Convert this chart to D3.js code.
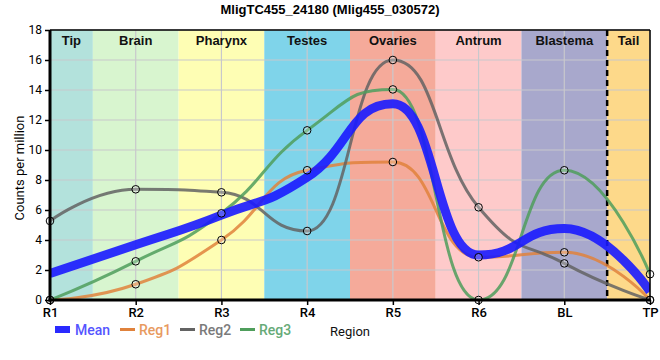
<!DOCTYPE html>
<html><head><meta charset="utf-8">
<script src="https://cdn.jsdelivr.net/npm/d3@7"></script>
<style>body{margin:0;background:#fff}svg{display:block}</style>
</head><body><svg id="c" width="660" height="360"></svg>
<script>
const categories = ["R1","R2","R3","R4","R5","R6","BL","TP"];
const regions = ["Tip","Brain","Pharynx","Testes","Ovaries","Antrum","Blastema","Tail"];
const regionStart = [0,0.5,1.5,2.5,3.5,4.5,5.5,6.5];
const regionEnd   = [0.5,1.5,2.5,3.5,4.5,5.5,6.5,7];
const regionColors = ["#b3e2dc","#d8f5cf","#fefeb4","#7fd4ea","#f5aa9a","#fecaca","#a8a8cc","#fdd98a"];
const meanValues = [1.77,3.68,5.66,8.18,13.08,3.0,4.76,0.57];
const reg1 = [0,1.05,4.0,8.65,9.2,2.85,3.18,0];
const reg2 = [5.27,7.38,7.18,4.6,16.0,6.18,2.44,0];
const reg3 = [0,2.58,5.78,11.31,14.04,0,8.65,1.72];
const yTicks = [0,2,4,6,8,10,12,14,16,18];
const title = "MligTC455_24180 (Mlig455_030572)";

const svg = d3.select("#c");
const x = d3.scaleLinear().domain([0,7]).range([50,650]);
const y = d3.scaleLinear().domain([0,18]).range([300,30]);

// spline path (control points at half interval, no false extremes)
function splinePath(vals){
  const pts = vals.map((v,i)=>({X:x(i),Y:y(v)}));
  const sm = 1, den = sm+1;
  const p = d3.path();
  p.moveTo(pts[0].X, pts[0].Y);
  let prevRX = pts[0].X, prevRY = pts[0].Y;
  for(let i=1;i<pts.length;i++){
    const pt = pts[i], last = pts[i-1], next = pts[i+1];
    let lcx = pt.X, lcy = pt.Y, rcx, rcy;
    if(next){
      lcx = (sm*pt.X+last.X)/den; lcy = (sm*pt.Y+last.Y)/den;
      rcx = (sm*pt.X+next.X)/den; rcy = (sm*pt.Y+next.Y)/den;
      let corr = 0;
      if(rcx!==lcx) corr = ((rcy-lcy)*(rcx-pt.X))/(rcx-lcx) + pt.Y - rcy;
      lcy += corr; rcy += corr;
      if(lcy>last.Y && lcy>pt.Y){ lcy=Math.max(last.Y,pt.Y); rcy=2*pt.Y-lcy; }
      else if(lcy<last.Y && lcy<pt.Y){ lcy=Math.min(last.Y,pt.Y); rcy=2*pt.Y-lcy; }
      if(rcy>next.Y && rcy>pt.Y){ rcy=Math.max(next.Y,pt.Y); lcy=2*pt.Y-rcy; }
      else if(rcy<next.Y && rcy<pt.Y){ rcy=Math.min(next.Y,pt.Y); lcy=2*pt.Y-rcy; }
    }
    p.bezierCurveTo(prevRX, prevRY, lcx, lcy, pt.X, pt.Y);
    if(next){ prevRX = rcx; prevRY = rcy; }
  }
  return p.toString();
}

// bands
svg.append("g").selectAll("rect").data(regions).join("rect")
  .attr("x",(d,i)=>x(regionStart[i])).attr("width",(d,i)=>x(regionEnd[i])-x(regionStart[i]))
  .attr("y",y(18)).attr("height",y(0)-y(18)).attr("fill",(d,i)=>regionColors[i]);

// grid
svg.append("g").selectAll("line").data(yTicks).join("line")
  .attr("x1",x(0)).attr("x2",x(7)).attr("y1",d=>y(d)).attr("y2",d=>y(d))
  .attr("stroke","#c8c8cc").attr("stroke-width",1.2);
svg.append("g").selectAll("line").data(categories).join("line")
  .attr("x1",(d,i)=>x(i)).attr("x2",(d,i)=>x(i)).attr("y1",y(0)).attr("y2",y(18))
  .attr("stroke","#c8c8cc").attr("stroke-width",1.2);

// band labels
svg.append("g").selectAll("text").data(regions).join("text")
  .attr("x",(d,i)=>(x(regionStart[i])+x(regionEnd[i]))/2).attr("y",45)
  .attr("text-anchor","middle").attr("font-family","Liberation Sans, Arial, sans-serif")
  .attr("font-weight","bold").attr("font-size",13).attr("fill","#111").text(d=>d);

// dashed line
svg.append("line").attr("x1",x(6.5)).attr("x2",x(6.5)).attr("y1",y(18)).attr("y2",y(0))
  .attr("stroke","#000").attr("stroke-width",2.5).attr("stroke-dasharray","6,4");

svg.append("clipPath").attr("id","clp").append("rect")
  .attr("x",x(0)).attr("y",y(18)).attr("width",x(7)-x(0)).attr("height",y(0)-y(18)+1);
const series = [
  {name:"Reg1",vals:reg1,color:"#e0823c"},
  {name:"Reg2",vals:reg2,color:"#636363"},
  {name:"Reg3",vals:reg3,color:"#4f9e5c"}
];
const gl = svg.append("g").attr("clip-path","url(#clp)");
series.forEach(s=>{
  gl.append("path").attr("d",splinePath(s.vals)).attr("fill","none")
    .attr("stroke",s.color).attr("stroke-width",3).attr("stroke-opacity",0.85);
});
gl.append("path").attr("d",splinePath(meanValues)).attr("fill","none")
  .attr("stroke","#1a1aff").attr("stroke-width",9).attr("stroke-opacity",0.9);

// points
series.forEach(s=>{
  svg.append("g").selectAll("circle").data(s.vals).join("circle")
    .attr("cx",(d,i)=>x(i)).attr("cy",d=>y(d)).attr("r",3.8)
    .attr("fill","rgba(255,255,255,0.25)").attr("stroke","#000").attr("stroke-width",1);
});

// axes
const yAxis = d3.axisLeft(y).tickValues(yTicks).tickSize(5).tickPadding(3);
const gy = svg.append("g").attr("transform",`translate(${x(0)},0)`).call(yAxis);
gy.select(".domain").remove();
gy.selectAll("text").attr("font-family","Roboto, sans-serif").attr("font-size",12).attr("fill","#000");
gy.selectAll("line").attr("stroke","#000").attr("stroke-width",1.5);
const xAxis = d3.axisBottom(x).tickValues(d3.range(8)).tickFormat(i=>categories[i]).tickSize(5).tickPadding(3);
const gx = svg.append("g").attr("transform",`translate(0,${y(0)})`).call(xAxis);
gx.select(".domain").remove();
gx.selectAll("text").attr("font-family","Roboto, sans-serif").attr("font-size",13).attr("font-weight",500).attr("fill","#000");
gx.selectAll("line").attr("stroke","#000").attr("stroke-width",1.5);

// frame
svg.append("line").attr("x1",x(0)).attr("x2",x(7)).attr("y1",y(18)).attr("y2",y(18)).attr("stroke","#000").attr("stroke-width",1.5);
svg.append("line").attr("x1",x(7)).attr("x2",x(7)).attr("y1",y(18)).attr("y2",y(0)).attr("stroke","#000").attr("stroke-width",1.5);
svg.append("line").attr("x1",x(0)).attr("x2",x(0)).attr("y1",y(18)).attr("y2",y(0)+1.5).attr("stroke","#000").attr("stroke-width",3);
svg.append("line").attr("x1",x(0)-1.5).attr("x2",x(7)+0.75).attr("y1",y(0)).attr("y2",y(0)).attr("stroke","#000").attr("stroke-width",3);

// title & axis labels
svg.append("text").attr("x",330).attr("y",14).attr("text-anchor","middle")
  .attr("font-family","Liberation Sans, Arial, sans-serif").attr("font-weight","bold").attr("font-size",13).text(title);
svg.append("text").attr("transform","translate(24,168) rotate(-90)").attr("text-anchor","middle")
  .attr("font-family","Roboto, sans-serif").attr("font-size",13).text("Counts per million");
svg.append("text").attr("x",350).attr("y",336).attr("text-anchor","middle")
  .attr("font-family","Roboto, sans-serif").attr("font-size",13).attr("fill","#111").text("Region");

// legend
const leg = svg.append("g");
leg.append("rect").attr("x",55).attr("y",326).attr("width",15).attr("height",7).attr("fill","#2a2aff");
leg.append("text").attr("x",75).attr("y",335).attr("font-family","Roboto, sans-serif").attr("font-size",14).attr("font-weight",500).attr("fill","#5555ff").text("Mean");
const legX = [120,180,240];
const legText = ["#e89a60","#7a7a7a","#66aa77"];
series.forEach((s,i)=>{
  leg.append("line").attr("x1",legX[i]).attr("x2",legX[i]+15).attr("y1",329.5).attr("y2",329.5).attr("stroke",s.color).attr("stroke-width",3);
  leg.append("text").attr("x",legX[i]+19).attr("y",335).attr("font-family","Roboto, sans-serif").attr("font-size",14).attr("font-weight",500).attr("fill",legText[i]).text(s.name);
});
</script></body></html>
